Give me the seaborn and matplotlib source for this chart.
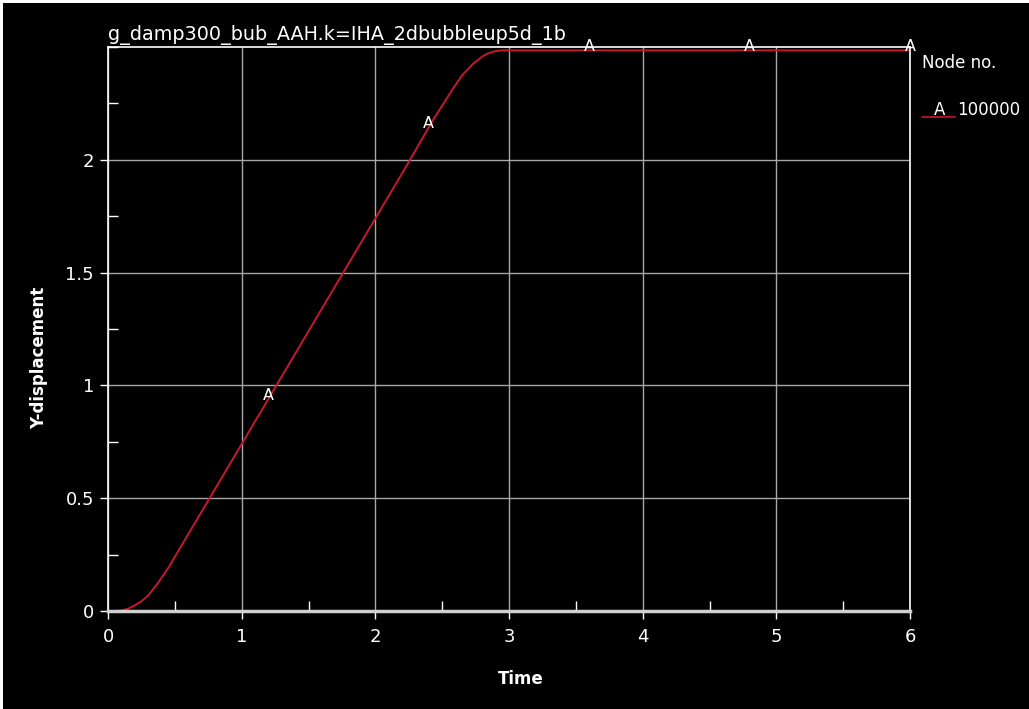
import numpy as np
import pandas as pd
import matplotlib
matplotlib.use("Agg")
import matplotlib.pyplot as plt
from matplotlib.lines import Line2D
from matplotlib.patches import Rectangle
from matplotlib.ticker import MultipleLocator
import seaborn as sns

# ---- data ----
time = [0.0, 0.05, 0.1, 0.15, 0.2, 0.25, 0.3, 0.375, 0.45, 0.5, 0.6, 0.75, 1.0,
        1.26, 1.5, 1.75, 2.0, 2.25, 2.43, 2.5, 2.58, 2.65, 2.73, 2.8, 2.84,
        2.9, 2.95, 3.0, 3.6, 4.8, 6.0]
y_disp = [0.0, 0.0, 0.002, 0.01, 0.025, 0.043, 0.068, 0.125, 0.19, 0.24, 0.34, 0.49, 0.74,
          1.0, 1.24, 1.49, 1.74, 1.99, 2.175, 2.24, 2.315, 2.375, 2.425, 2.458, 2.471,
          2.482, 2.485, 2.485, 2.485, 2.485, 2.485]
marker_times = [1.2, 2.4, 3.6, 4.8, 6.0]
marker_letter = "A"
node_ids = ["100000"]
x_ticks = [0, 1, 2, 3, 4, 5, 6]
y_ticks = [0, 0.5, 1, 1.5, 2]
y_tick_labels = ["0", "0.5", "1", "1.5", "2"]
title_text = "g_damp300_bub_AAH.k=IHA_2dbubbleup5d_1b"
x_label = "Time"
y_label = "Y-displacement"
legend_title = "Node no."

df = pd.DataFrame({"Time": time, "Y": y_disp})

sns.set_style("dark")
plt.rcParams["font.family"] = ["DejaVu Sans"]

fig = plt.figure(figsize=(10.29, 7.09), dpi=100, facecolor="white")
fig.patches.append(Rectangle((3 / 1029, 0), 1, 1 - 3 / 709, transform=fig.transFigure,
                             facecolor="black", edgecolor="none", zorder=-10))
ax = fig.add_axes([108 / 1029, 98 / 709, 802 / 1029, 564 / 709])
ax.set_facecolor("black")

red = "#c8182e"
sns.lineplot(data=df, x="Time", y="Y", ax=ax, color=red, linewidth=1.4, zorder=3)

ax.set_xlim(0, 6)
ax.set_ylim(0, 2.5)
ax.set_xticks(x_ticks)
ax.set_xticklabels([str(v) for v in x_ticks])
ax.xaxis.set_minor_locator(MultipleLocator(0.5))
ax.set_yticks(y_ticks)
ax.set_yticklabels(y_tick_labels)
ax.yaxis.set_minor_locator(MultipleLocator(0.25))

ax.grid(True, which="major", color="#a8a8a8", linewidth=1.0)
ax.grid(False, which="minor")
ax.tick_params(axis="both", which="major", direction="out", length=6, width=1,
               color="white", labelcolor="white", labelsize=13, pad=4)
ax.tick_params(axis="x", which="major", pad=6)
ax.tick_params(axis="both", which="minor", direction="in", length=7, width=1,
               color="white")
ax.tick_params(which="both", bottom=True, left=True, top=False, right=False)

for side in ["left", "right", "top"]:
    ax.spines[side].set_visible(True)
    ax.spines[side].set_color("white")
    ax.spines[side].set_linewidth(1.2)
ax.spines["bottom"].set_visible(True)
ax.spines["bottom"].set_color("#d0d0d0")
ax.spines["bottom"].set_linewidth(2.5)
for s in ax.spines.values():
    s.set_zorder(4)

# marker letters on the curve
for t in marker_times:
    yv = np.interp(t, time, y_disp)
    ax.annotate(marker_letter, (t, yv), xytext=(0, 2.5), textcoords="offset points",
                ha="center", va="center", color="white", fontsize=11.5,
                annotation_clip=False, zorder=5)

ax.set_title(title_text, loc="left", color="white", fontsize=13.8, pad=5)
ax.set_xlabel(x_label, color="white", fontsize=12, fontweight="bold")
ax.set_ylabel(y_label, color="white", fontsize=12, fontweight="bold")
ax.xaxis.set_label_coords(0.515, -0.105)
ax.yaxis.set_label_coords(-0.075, 0.449)

# legend
fig.text(922 / 1029, 1 - 63 / 709, legend_title, color="white", fontsize=12,
         ha="left", va="center")
fig.text(940 / 1029, 1 - 110 / 709, marker_letter, color="white", fontsize=12,
         ha="center", va="center")
fig.text(957 / 1029, 1 - 110 / 709, node_ids[0], color="white", fontsize=12,
         ha="left", va="center")
fig.lines.append(Line2D([922 / 1029, 955 / 1029], [1 - 117 / 709, 1 - 117 / 709],
                        transform=fig.transFigure, color=red, linewidth=1.2))

fig.savefig("out.png", dpi=100, facecolor=fig.get_facecolor())
